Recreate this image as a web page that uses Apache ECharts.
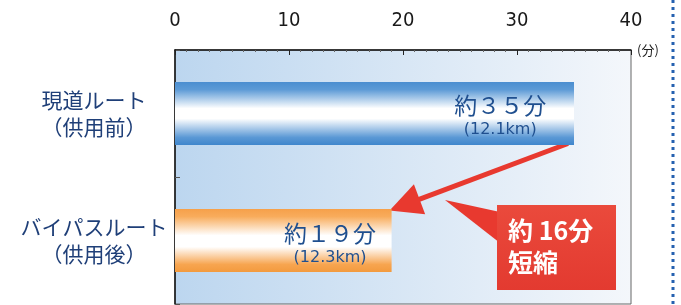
<!DOCTYPE html>
<html>
<head>
<meta charset="utf-8">
<script src="https://cdn.jsdelivr.net/npm/echarts@6/dist/echarts.min.js"></script>
<style>
  html, body { margin: 0; padding: 0; background: #fff; }
  #main { width: 681px; height: 305px; }
</style>
</head>
<body>
<div id="main"></div>
<script>
// data
const categories = ['現道ルート\n（供用前）', 'バイパスルート\n（供用後）']
const minutes = [35, 19]
const minuteText = ['約３５分', '約１９分']
const distances = ['(12.1km)', '(12.3km)']
const xTicks = [0, 10, 20, 30, 40]

const chart = echarts.init(document.getElementById('main'))
const jp = '"Noto Sans CJK JP", sans-serif'

const blueBar = new echarts.graphic.LinearGradient(0, 0, 0, 1, [
  { offset: 0, color: '#4a8ed0' },
  { offset: 0.12, color: '#5c9ad6' },
  { offset: 0.42, color: '#ffffff' },
  { offset: 0.58, color: '#ffffff' },
  { offset: 0.88, color: '#5a98d5' },
  { offset: 1, color: '#3f86cc' }
])
const orangeBar = new echarts.graphic.LinearGradient(0, 0, 0, 1, [
  { offset: 0, color: '#f6a04a' },
  { offset: 0.12, color: '#f8ac5c' },
  { offset: 0.42, color: '#ffffff' },
  { offset: 0.6, color: '#ffffff' },
  { offset: 0.88, color: '#f7a550' },
  { offset: 1, color: '#f39a3e' }
])

chart.setOption({
  animation: false,
  grid: {
    left: 175,
    right: 50,
    top: 50,
    bottom: 1,
    show: true,
    borderColor: '#666',
    borderWidth: 1,
    backgroundColor: new echarts.graphic.LinearGradient(0, 0, 1, 0, [
      { offset: 0, color: '#bcd6ef' },
      { offset: 1, color: '#f4f7fb' }
    ])
  },
  xAxis: {
    type: 'value',
    position: 'top',
    min: xTicks[0],
    max: xTicks[xTicks.length - 1],
    interval: 10,
    name: '(分)',
    nameLocation: 'end',
    nameGap: 6,
    nameTextStyle: { fontFamily: jp, fontSize: 13, color: '#222', padding: [0, 0, 24, 0] },
    axisLine: { show: true, lineStyle: { color: '#111', width: 1.5 } },
    axisTick: { show: true, inside: true, length: 5, lineStyle: { color: '#222' } },
    minorTick: { show: true, splitNumber: 10, length: 2, lineStyle: { color: '#666' } },
    splitLine: { show: false },
    axisLabel: {
      margin: 19,
      fontSize: 20,
      color: '#1a1a1a',
      fontFamily: '"Liberation Sans Narrow", "DejaVu Sans Condensed", sans-serif'
    }
  },
  yAxis: {
    type: 'category',
    inverse: true,
    data: categories,
    axisLine: { show: true, lineStyle: { color: '#111', width: 1.5 } },
    axisTick: { show: true, inside: true, length: 5, lineStyle: { color: '#555' } },
    axisLabel: {
      margin: 81,
      align: 'center',
      fontSize: 21,
      lineHeight: 27,
      color: '#1f3f78',
      fontFamily: jp
    }
  },
  series: [
    {
      type: 'bar',
      barWidth: 63,
      data: minutes.map((v, i) => ({
        value: v,
        itemStyle: { color: i === 0 ? blueBar : orangeBar },
        label: {
          show: true,
          position: i === 0 ? ['81.5%', '56%'] : ['71.6%', '58%'],
          align: 'center',
          verticalAlign: 'middle',
          formatter: '{a|' + minuteText[i] + '}\n{b|' + distances[i] + '}',
          rich: {
            a: { fontFamily: jp, fontSize: 23, color: '#1f4f8f', lineHeight: 25, align: 'center' },
            b: { fontFamily: '"DejaVu Sans", sans-serif', fontSize: 16, color: '#1f4f8f', lineHeight: 24, align: 'center' }
          }
        }
      }))
    }
  ]
})

// arrow from the end of the old route bar to the end of the bypass bar
const p1 = chart.convertToPixel({ gridIndex: 0 }, [minutes[0], 0])
const p2 = chart.convertToPixel({ gridIndex: 0 }, [minutes[1], 1])
const tail = [p1[0] - 6, p1[1] + 30]
const tip = [p2[0] - 2, p2[1] - 30]
const dx = tip[0] - tail[0]
const dy = tip[1] - tail[1]
const len = Math.sqrt(dx * dx + dy * dy)
const ux = dx / len
const uy = dy / len
const headLen = 32
const headHalf = 16
const base = [tip[0] - ux * headLen, tip[1] - uy * headLen]
const red = '#e8392f'

chart.setOption({
  graphic: [
    {
      type: 'line',
      shape: { x1: tail[0], y1: tail[1], x2: base[0] + ux * 4, y2: base[1] + uy * 4 },
      style: { stroke: red, lineWidth: 5 }
    },
    {
      type: 'polygon',
      shape: {
        points: [
          tip,
          [base[0] - uy * headHalf, base[1] + ux * headHalf],
          [base[0] + uy * headHalf, base[1] - ux * headHalf]
        ]
      },
      style: { fill: red }
    },
    {
      type: 'polygon',
      shape: { points: [[445, 200], [500, 212], [500, 243]] },
      style: { fill: red }
    },
    {
      type: 'rect',
      shape: { x: 497, y: 205, width: 119, height: 85 },
      style: {
        fill: new echarts.graphic.LinearGradient(0, 0, 0, 1, [
          { offset: 0, color: '#ea4a3c' },
          { offset: 1, color: '#e33a30' }
        ])
      }
    },
    {
      type: 'text',
      left: 508,
      top: 214,
      style: {
        text: '約 ' + (minutes[0] - minutes[1]) + '分\n短縮',
        fill: '#fff',
        fontFamily: jp,
        fontWeight: 'bold',
        fontSize: 25,
        lineHeight: 32
      }
    },
    {
      type: 'line',
      shape: { x1: 673, y1: 0, x2: 673, y2: 305 },
      style: { stroke: '#2561b0', lineWidth: 3, lineDash: [3, 4] }
    }
  ]
})
</script>
</body>
</html>
